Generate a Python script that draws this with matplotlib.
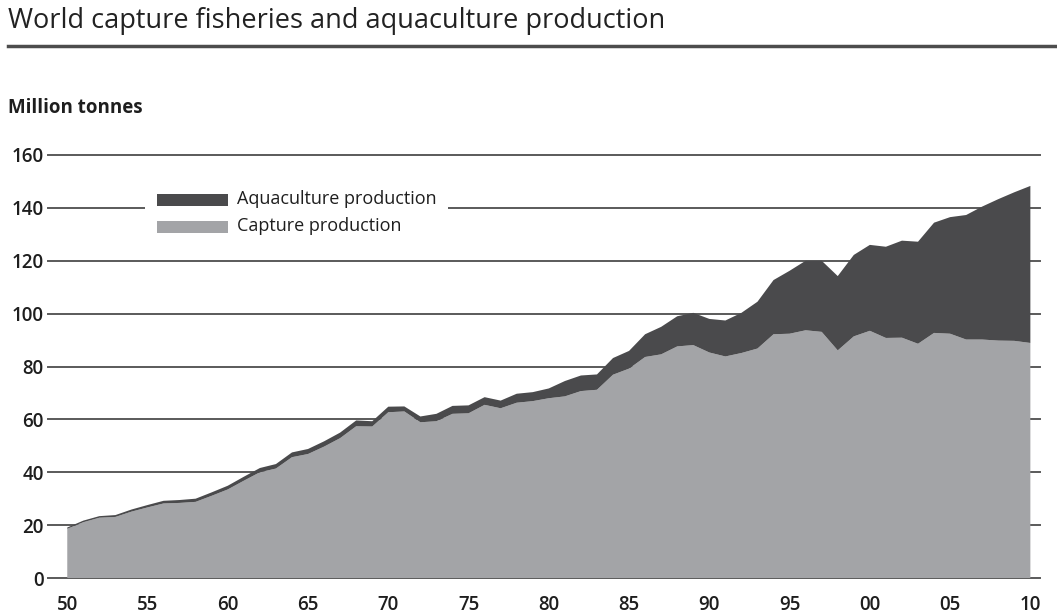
import numpy as np
import matplotlib
matplotlib.use("Agg")
from matplotlib import pyplot as plt
from matplotlib.lines import Line2D
from matplotlib.patches import Rectangle

# data (million tonnes)
years = np.arange(1950, 2011)
total = [19.1, 21.7, 23.4, 23.8, 25.9, 27.6, 29.2, 29.5, 30.0, 32.4,
         34.9, 38.3, 41.6, 43.1, 47.5, 48.8, 51.7, 55.0, 59.6, 59.3,
         64.8, 64.9, 61.1, 62.1, 65.1, 65.3, 68.4, 67.1, 69.7, 70.3,
         71.7, 74.5, 76.6, 77.0, 83.2, 85.9, 92.2, 95.0, 99.0, 100.3,
         98.0, 97.4, 100.3, 104.5, 112.7, 116.2, 120.0, 120.0, 114.2, 122.2,
         126.0, 125.3, 127.6, 127.2, 134.4, 136.5, 137.3, 140.5, 143.3, 145.9,
         148.3]
capture = [18.6, 21.1, 22.8, 23.1, 25.1, 26.7, 28.2, 28.4, 28.8, 31.1,
           33.5, 36.8, 40.0, 41.4, 45.7, 46.9, 49.7, 52.9, 57.4, 57.3,
           62.7, 63.0, 58.9, 59.3, 62.1, 62.3, 65.5, 64.2, 66.3, 66.9,
           68.0, 68.7, 70.7, 71.2, 76.9, 79.2, 83.6, 84.6, 87.6, 88.1,
           85.3, 83.8, 85.1, 86.8, 92.2, 92.4, 93.7, 93.1, 86.1, 91.4,
           93.5, 90.8, 90.9, 88.6, 92.7, 92.4, 90.2, 90.2, 89.8, 89.7,
           88.9]
aquaculture = np.array(total) - np.array(capture)

yticks = [0, 20, 40, 60, 80, 100, 120, 140, 160]
xticks = [1950, 1955, 1960, 1965, 1970, 1975, 1980, 1985, 1990, 1995, 2000, 2005, 2010]
xlabels = ["50", "55", "60", "65", "70", "75", "80", "85", "90", "95", "00", "05", "10"]

dark = "#4a4a4c"
light = "#a3a4a7"
grid_c = "#5a5a5a"
text_c = "#1e1e1e"

plt.rcParams['font.family'] = ['Open Sans', 'DejaVu Sans']

W, H = 1057, 614
fig = plt.figure(figsize=(W / 100, H / 100), dpi=100)


def fx(px):
    return px / W


def fy(py):
    return 1 - py / H


ax = fig.add_axes([fx(48), fy(578), fx(1040) - fx(48), fy(155) - fy(578)])
ax.set_xlim(1948.8, 2010.6)
ax.set_ylim(0, 160)

for v in yticks:
    ax.axhline(v, color=grid_c, linewidth=1.4, zorder=0, clip_on=False)

ax.stackplot(years, capture, aquaculture, colors=[light, dark],
             linewidth=0, zorder=2)

for s in ax.spines.values():
    s.set_visible(False)
ax.set_xticks(xticks)
ax.set_xticklabels(xlabels)
ax.set_yticks(yticks)
ax.tick_params(length=0, labelsize=13.5, labelcolor=text_c)
ax.tick_params(axis='x', pad=12)
ax.tick_params(axis='y', pad=3)
for lab in ax.get_xticklabels() + ax.get_yticklabels():
    lab.set_fontweight('semibold')

# title and rule
fig.text(fx(8), fy(21), "World capture fisheries and aquaculture production",
         fontsize=19.5, color="#222222", va='center', ha='left')
fig.add_artist(Line2D([fx(8), fx(1057)], [fy(46), fy(46)], color="#4d4d4d",
                      linewidth=2.5))
fig.text(fx(8), fy(108), "Million tonnes", fontsize=13.5, fontweight='bold',
         color=text_c, va='center', ha='left')

# legend drawn by hand
fig.add_artist(Rectangle((fx(145), fy(240)), fx(448) - fx(145), fy(188) - fy(240),
                         facecolor='white', edgecolor='none', zorder=3))
fig.add_artist(Rectangle((fx(157), fy(206)), fx(228) - fx(157), fy(194) - fy(206),
                         facecolor=dark, edgecolor='none', zorder=4))
fig.add_artist(Rectangle((fx(157), fy(233)), fx(228) - fx(157), fy(221) - fy(233),
                         facecolor=light, edgecolor='none', zorder=4))
fig.text(fx(237), fy(199), "Aquaculture production", fontsize=13, color=text_c,
         va='center', ha='left', zorder=5)
fig.text(fx(237), fy(226), "Capture production", fontsize=13, color=text_c,
         va='center', ha='left', zorder=5)

fig.savefig("out.png", dpi=100)
